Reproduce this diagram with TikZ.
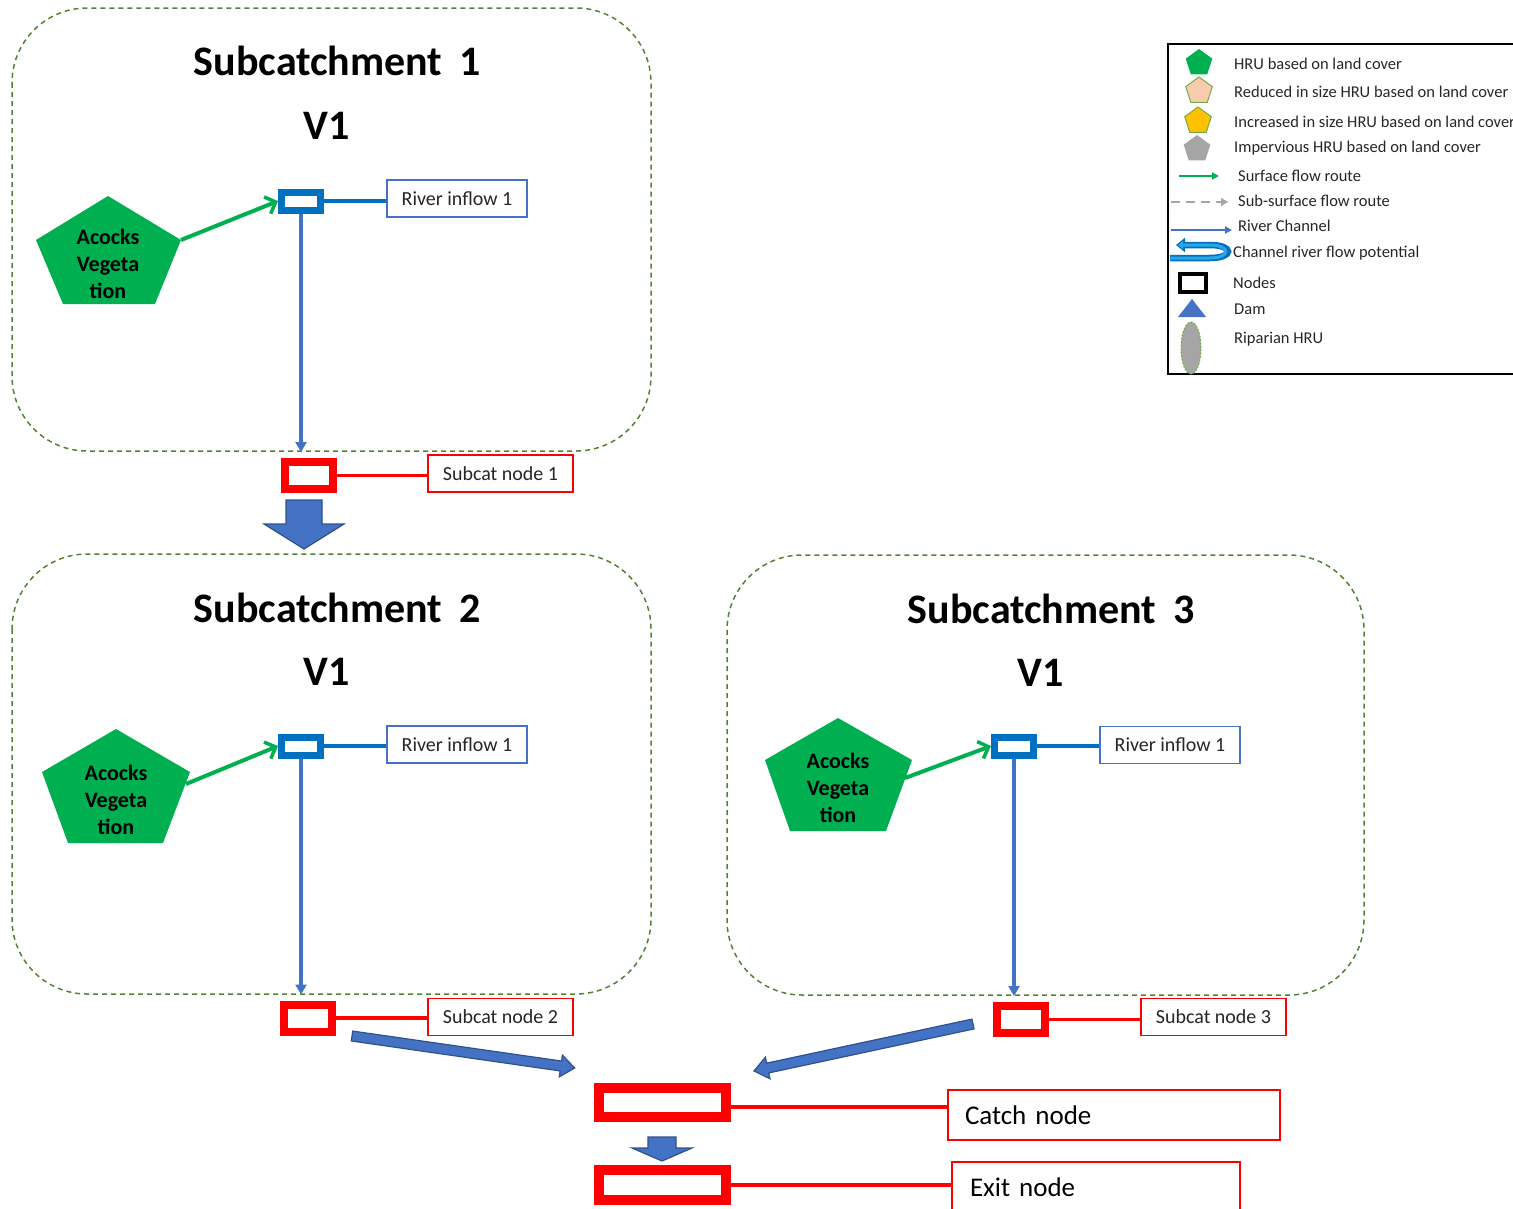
\documentclass[tikz,border=0pt]{standalone}
\usepackage{fontspec}
\setmainfont{Carlito}
\usetikzlibrary{arrows.meta,shapes.geometric,calc}

\definecolor{hrugreen}{HTML}{00B050}
\definecolor{nodeblue}{HTML}{0070C0}
\definecolor{chanblue}{HTML}{4472C4}
\definecolor{edgeblue}{HTML}{2F528F}
\definecolor{framegreen}{HTML}{548235}
\definecolor{peach}{HTML}{F8CBAD}
\definecolor{gold}{HTML}{FFC000}
\definecolor{impgray}{HTML}{A5A5A5}
\definecolor{leaf}{HTML}{70AD47}
\definecolor{skyblue}{HTML}{2BA6E6}
\definecolor{txt}{HTML}{262626}

\newcommand\ttlfont{\bfseries\fontsize{42}{50}\selectfont}
\newcommand\hrufont{\bfseries\fontsize{22}{27}\selectfont}
\newcommand\lblfont{\fontsize{20}{24}\selectfont}
\newcommand\bigfont{\fontsize{27}{32}\selectfont}
\newcommand\legfont{\fontsize{16.5}{20}\selectfont}

% block arrow: tail, angle, length, shaft half width, head half width, head length
\newcommand\blockarrow[6]{%
  \begin{scope}[shift={(#1)}, rotate=#2]
    \filldraw[blockarr] (0,#4) -- ({#3-#6},#4) -- ({#3-#6},#5) -- (#3,0)
      -- ({#3-#6},-#5) -- ({#3-#6},-#4) -- (0,-#4) -- cycle;
  \end{scope}}

\begin{document}
\begin{tikzpicture}[x=1pt,y=-1pt,
  catchframe/.style={draw=framegreen, line width=1.5pt, dash pattern=on 5pt off 4pt, rounded corners=75pt},
  ttl/.style={font=\ttlfont, text=black, inner sep=0pt},
  hrutext/.style={font=\hrufont, align=center, text=black, inner sep=0pt},
  bnode/.style={draw=nodeblue, line width=7pt, fill=white, minimum width=39pt, minimum height=18pt, inner sep=0pt},
  rnode/.style={draw=red, line width=8pt, fill=white, minimum width=48pt, minimum height=27pt, inner sep=0pt},
  bignode/.style={draw=red, line width=10pt, fill=white, minimum width=127pt, minimum height=29pt, inner sep=0pt},
  rivbox/.style={draw=chanblue, line width=1.5pt, fill=white, minimum width=140pt, minimum height=37pt, inner sep=0pt, font=\lblfont, text=txt},
  redbox/.style={draw=red, line width=1.5pt, fill=white, minimum width=145pt, minimum height=37pt, inner sep=0pt, font=\lblfont, text=txt},
  bigbox/.style={draw=red, line width=1.8pt, fill=white, minimum height=50pt, inner ysep=0pt, inner xsep=17pt, text width=298pt, align=left, font=\bigfont, text=black},
  surf/.style={draw=hrugreen, line width=4pt, -{Straight Barb[length=9pt,width=18pt,line width=3.5pt]}},
  blink/.style={draw=nodeblue, line width=3.5pt},
  river/.style={draw=chanblue, line width=3.5pt, -{Triangle[length=10pt,width=11pt]}, shorten >=6pt},
  rlink/.style={draw=red, line width=3.5pt},
  blockarr/.style={fill=chanblue, draw=edgeblue, line width=1.2pt},
  legtext/.style={font=\legfont, text=txt, anchor=west, inner sep=0pt},
  legpent/.style={regular polygon, regular polygon sides=5, minimum size=28pt, inner sep=0pt},
]
\useasboundingbox (0,0) rectangle (1513,1208);
\clip (0,0) rectangle (1513,1208);

% ---- subcatchment frames ----
\draw[catchframe] (12,8) rectangle (651,451);
\draw[catchframe] (12,554) rectangle (651,994);
\draw[catchframe] (727,555) rectangle (1364,995);

\node[ttl] (t1) at (337,61) {Subcatchment\, 1};
\node[ttl] (v1) at (327,126) {V1};
\node[ttl] (t2) at (337,608) {Subcatchment\, 2};
\node[ttl] (v2) at (327,672) {V1};
\node[ttl] (t3) at (1051,609) {Subcatchment\, 3};
\node[ttl] (v3) at (1041,673) {V1};

% ---- land-cover HRUs ----
\fill[hrugreen] (108,196) -- (181,240) -- (155,304) -- (63,304) -- (36,240) -- cycle;
\node[hrutext] (h1) at (108,264) {Acocks\\Vegeta\\tion};
\coordinate (h1out) at (181,240);

\fill[hrugreen] (116,729) -- (190,772) -- (163,843) -- (68,843) -- (42,772) -- cycle;
\node[hrutext] (h2) at (116,800) {Acocks\\Vegeta\\tion};
\coordinate (h2out) at (186,784);

\fill[hrugreen] (838,718) -- (912,760) -- (886,831) -- (790,831) -- (765,760) -- cycle;
\node[hrutext] (h3) at (838,788) {Acocks\\Vegeta\\tion};
\coordinate (h3out) at (905,778);

% ---- inflow nodes ----
\node[bnode] (b1) at (301,201) {};
\node[rivbox] (r1) at (457,198.5) {River inflow 1};
\node[bnode] (b2) at (301,746) {};
\node[rivbox] (r2) at (457,744.5) {River inflow 1};
\node[bnode] (b3) at (1014,746) {};
\node[rivbox] (r3) at (1170,745) {River inflow 1};

\draw[blink] (b1.east) -- (b1.east -| r1.west);
\draw[blink] (b2.east) -- (b2.east -| r2.west);
\draw[blink] (b3.east) -- (b3.east -| r3.west);

\draw[surf] (h1out) -- (b1.west);
\draw[surf] (h2out) -- (b2.west);
\draw[surf] (h3out) -- (b3.west);

% ---- subcatchment outlet nodes ----
\node[rnode] (s1) at (309,475.5) {};
\node[redbox] (l1) at (500.5,473.5) {Subcat node 1};
\node[rnode] (s2) at (308,1018) {};
\node[redbox] (l2) at (500.5,1017) {Subcat node 2};
\node[rnode] (s3) at (1021,1019.5) {};
\node[redbox] (l3) at (1213.5,1017) {Subcat node 3};

\draw[rlink] (s1.east) -- (s1.east -| l1.west);
\draw[rlink] (s2.east) -- (s2.east -| l2.west);
\draw[rlink] (s3.east) -- (s3.east -| l3.west);

\draw[river] (b1.south) -- (b1.south |- s1.north);
\draw[river] (b2.south) -- (b2.south |- s2.north);
\draw[river] (b3.south) -- (b3.south |- s3.north);

% ---- catchment outlet and exit ----
\node[bignode] (c) at (662.5,1102.5) {};
\node[bigbox] (cl) at (1114,1115) {Catch node};
\node[bignode, minimum height=30pt] (e) at (662.5,1185) {};
\node[bigbox, text width=252pt, inner xsep=18pt] (el) at (1096,1187) {Exit node};

\draw[rlink, line width=4pt] ([yshift=-4pt]c.east) -- ([yshift=-4pt]c.east -| cl.west);
\draw[rlink, line width=4pt] (e.east) -- (e.east -| el.west);

% ---- block arrows between stages ----
\coordinate (ta1) at (304,500);
\coordinate (ta2) at (352,1036);
\coordinate (ta3) at (973,1024);
\coordinate (ta4) at (662,1137);
\blockarrow{ta1}{-90}{49}{18}{40}{25}
\blockarrow{ta2}{-8.17}{225}{5}{11}{14}
\blockarrow{ta3}{-167.9}{224}{5}{11}{14}
\blockarrow{ta4}{-90}{24}{14}{30}{13}

% ---- legend ----
\draw[black, line width=1.5pt] (1168,44) rectangle (1540,374);

\node[legpent, fill=hrugreen] (k1) at (1199,63) {};
\node[legtext] (k1t) at (1234,64) {HRU based on land cover};
\node[legpent, fill=peach, draw=leaf, line width=1pt] (k2) at (1199,91) {};
\node[legtext] (k2t) at (1234,92) {Reduced in size HRU based on land cover};
\node[legpent, fill=gold, draw=leaf, line width=1pt] (k3) at (1198,121) {};
\node[legtext] (k3t) at (1234,122) {Increased in size HRU based on land cover};
\node[legpent, fill=impgray] (k4) at (1197,149) {};
\node[legtext] (k4t) at (1234,148) {Impervious HRU based on land cover};

\draw[hrugreen, line width=2pt, -{Triangle[length=7pt,width=7pt]}] (1179,176) -- (1219,176);
\node[legtext] (k5t) at (1238,176) {Surface flow route};

\draw[impgray, line width=2.5pt, dash pattern=on 9pt off 6pt, -{Triangle[length=7pt,width=8pt]}] (1171,202) -- (1228,202);
\node[legtext] (k6t) at (1238,201) {Sub-surface flow route};

\draw[chanblue, line width=2.5pt, -{Triangle[length=7pt,width=7pt]}] (1171,230) -- (1232,230);
\node[legtext] (k7t) at (1238,226) {River Channel};

\draw[nodeblue, line width=6.5pt, -{Triangle[length=9pt,width=14pt]}]
  (1170,258) -- (1210,258) .. controls (1234,258) and (1234,245) .. (1210,245) -- (1176,245);
\draw[skyblue, line width=3pt, -{Triangle[length=5pt,width=8pt]}]
  (1170,258) -- (1210,258) .. controls (1231,258) and (1231,245) .. (1210,245) -- (1178,245);
\node[legtext] (k8t) at (1233,253) {Channel river flow potential};

\node[draw=black, line width=4pt, fill=white, minimum width=26pt, minimum height=18pt, inner sep=0pt] (k9) at (1193,283) {};
\node[legtext] (k9t) at (1233,283) {Nodes};

\fill[chanblue] (1178,317) -- (1206,317) -- (1192,299) -- cycle;
\node[legtext] (k10t) at (1234,309) {Dam};

\node[ellipse, fill=impgray, draw=leaf, line width=1pt, dash pattern=on 2pt off 1.5pt, minimum width=20pt, minimum height=52pt, inner sep=0pt] (k11) at (1191,348) {};
\node[legtext] (k11t) at (1234,339) {Riparian HRU};
\end{tikzpicture}
\end{document}
